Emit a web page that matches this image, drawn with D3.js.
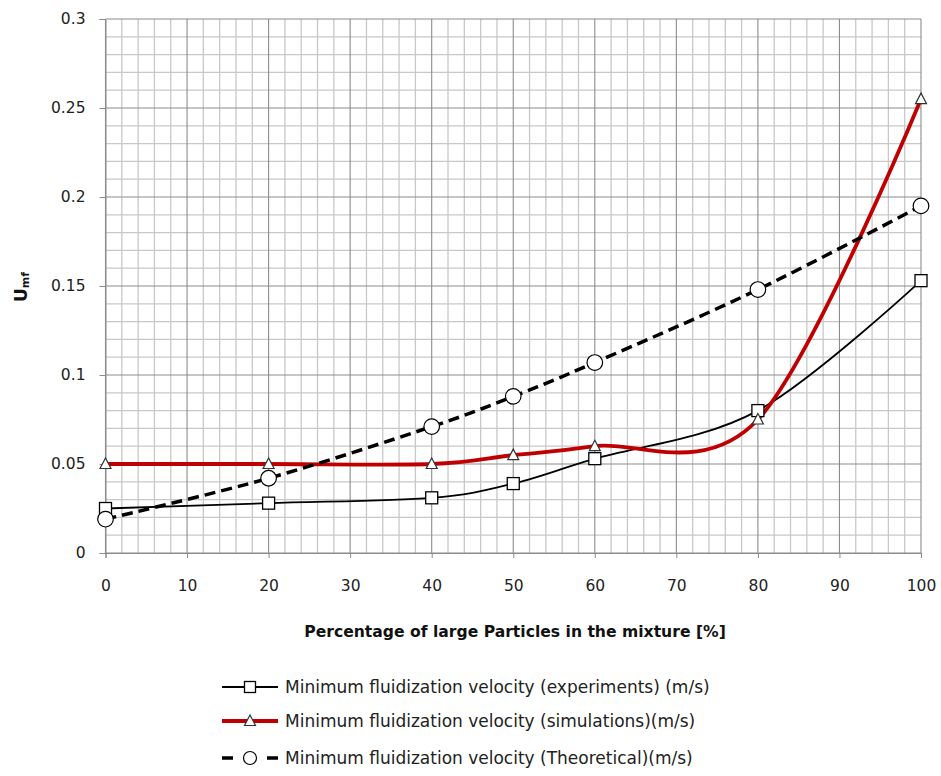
<!DOCTYPE html>
<html>
<head>
<meta charset="utf-8">
<script src="https://cdn.jsdelivr.net/npm/d3@7"></script>
<style>
  html, body { margin: 0; padding: 0; background: #fff; }
  svg text { font-family: "DejaVu Sans", "Open Sans", sans-serif; }
</style>
</head>
<body>
<svg id="chart" width="941" height="776"></svg>
<script>
// Percentage of large particles in the mixture
const percentages = [0, 20, 40, 50, 60, 80, 100];
// Minimum fluidization velocity, m/s
const experiments = [0.025, 0.028, 0.031, 0.039, 0.053, 0.080, 0.153];
const simulations = [0.050, 0.050, 0.050, 0.055, 0.060, 0.075, 0.255];
const theoretical = [0.019, 0.042, 0.071, 0.088, 0.107, 0.148, 0.195];

const xTicks = [0, 10, 20, 30, 40, 50, 60, 70, 80, 90, 100];
const yTicks = [0, 0.05, 0.1, 0.15, 0.2, 0.25, 0.3];
const seriesNames = [
  "Minimum fluidization velocity (experiments) (m/s)",
  "Minimum fluidization velocity (simulations)(m/s)",
  "Minimum fluidization velocity (Theoretical)(m/s)"
];

const svg = d3.select("#chart");
const plot = { left: 105.5, right: 921, top: 19, bottom: 553 };

const x = d3.scaleLinear().domain([0, 100]).range([plot.left, plot.right]);
const y = d3.scaleLinear().domain([0, 0.3]).range([plot.bottom, plot.top]);

// Minor grid: every 2 % and every 0.01 m/s
const g = svg.append("g");
d3.range(0, 101, 2).forEach(v => {
  if (v % 10 !== 0) g.append("line").attr("x1", x(v)).attr("x2", x(v))
    .attr("y1", plot.top).attr("y2", plot.bottom).attr("stroke", "#c8c8c8").attr("stroke-width", 1.3);
});
d3.range(0, 31, 1).forEach(i => {
  const v = i / 100;
  if (i % 5 !== 0) g.append("line").attr("x1", plot.left).attr("x2", plot.right)
    .attr("y1", y(v)).attr("y2", y(v)).attr("stroke", "#c8c8c8").attr("stroke-width", 1.3);
});
// Major grid
xTicks.forEach(v => g.append("line").attr("x1", x(v)).attr("x2", x(v))
  .attr("y1", plot.top).attr("y2", plot.bottom).attr("stroke", "#8c8c8c").attr("stroke-width", 1.1));
yTicks.forEach(v => g.append("line").attr("x1", plot.left).attr("x2", plot.right)
  .attr("y1", y(v)).attr("y2", y(v)).attr("stroke", "#8c8c8c").attr("stroke-width", 1.1));

// Axes
const xAxis = d3.axisBottom(x).tickValues(xTicks).tickSize(5).tickPadding(22).tickFormat(d3.format("d"));
const yAxis = d3.axisLeft(y).tickValues(yTicks).tickSize(6).tickPadding(14).tickFormat(d => d === 0 ? "0" : String(+d.toFixed(2)));

const gx = svg.append("g").attr("transform", `translate(0,${plot.bottom})`).call(xAxis);
const gy = svg.append("g").attr("transform", `translate(${plot.left},0)`).call(yAxis);
[gx, gy].forEach(a => {
  a.select(".domain").attr("stroke", "#8c8c8c");
  a.selectAll(".tick line").attr("stroke", "#8c8c8c");
  a.selectAll(".tick text").attr("font-size", 15.5).attr("fill", "#222")
    .attr("font-family", "'DejaVu Sans', sans-serif");
});

// Axis titles
svg.append("text").attr("x", 515).attr("y", 637).attr("text-anchor", "middle")
  .attr("font-family", "'Open Sans', sans-serif")
  .attr("font-size", 15.6).attr("font-weight", "bold").attr("fill", "#111")
  .text("Percentage of large Particles in the mixture [%]");
const yt = svg.append("text").attr("transform", "translate(27,287) rotate(-90)")
  .attr("text-anchor", "middle").attr("font-weight", "bold").attr("fill", "#111")
  .attr("font-family", "'Open Sans', sans-serif");
yt.append("tspan").attr("font-size", 17).text("U");
yt.append("tspan").attr("font-size", 11).attr("dy", 2).text("mf");

// Series
const series = [
  { values: experiments, color: "#000", width: 1.8, dash: null, marker: "square" },
  { values: simulations, color: "#c00000", width: 3.8, dash: null, marker: "triangle" },
  { values: theoretical, color: "#000", width: 3.5, dash: "11,6", marker: "circle" }
];

// Smoothed lines: uniform Catmull-Rom spline through the data points
const line = d3.line().x(d => x(d[0])).y(d => y(d[1])).curve(d3.curveCardinal.tension(0));

function drawMarker(sel, type, cx, cy, small) {
  if (type === "square") {
    const h = small ? 5.5 : 6;
    sel.append("rect").attr("x", cx - h).attr("y", cy - h).attr("width", 2 * h).attr("height", 2 * h)
      .attr("fill", "#fff").attr("stroke", "#000").attr("stroke-width", 1.3);
  } else if (type === "triangle") {
    sel.append("path").attr("d", `M${cx},${cy - 6}L${cx + 5.5},${cy + 4.5}L${cx - 5.5},${cy + 4.5}Z`)
      .attr("fill", "#fff").attr("stroke", "#333").attr("stroke-width", 1.2);
  } else {
    sel.append("circle").attr("cx", cx).attr("cy", cy).attr("r", small ? 6.5 : 7.8)
      .attr("fill", "#fff").attr("stroke", "#000").attr("stroke-width", 1.2);
  }
}

series.forEach(s => {
  const pts = percentages.map((p, i) => [p, s.values[i]]);
  svg.append("path").attr("d", line(pts)).attr("fill", "none")
    .attr("stroke", s.color).attr("stroke-width", s.width)
    .attr("stroke-dasharray", s.dash);
});
series.forEach(s => {
  const mg = svg.append("g");
  percentages.forEach((p, i) => drawMarker(mg, s.marker, x(p), y(s.values[i]), false));
});

// Legend
const legendRows = [687, 721, 758];
series.forEach((s, i) => {
  const ly = legendRows[i];
  const lg = svg.append("g");
  lg.append("line").attr("x1", 222).attr("x2", 278).attr("y1", ly).attr("y2", ly)
    .attr("stroke", s.color).attr("stroke-width", s.width)
    .attr("stroke-dasharray", s.dash ? "11,34,11" : null);
  drawMarker(lg, s.marker, 250, ly, true);
  lg.append("text").attr("x", 285).attr("y", ly + 6).attr("font-size", 17).attr("fill", "#222")
    .text(seriesNames[i]);
});
</script>
</body>
</html>
